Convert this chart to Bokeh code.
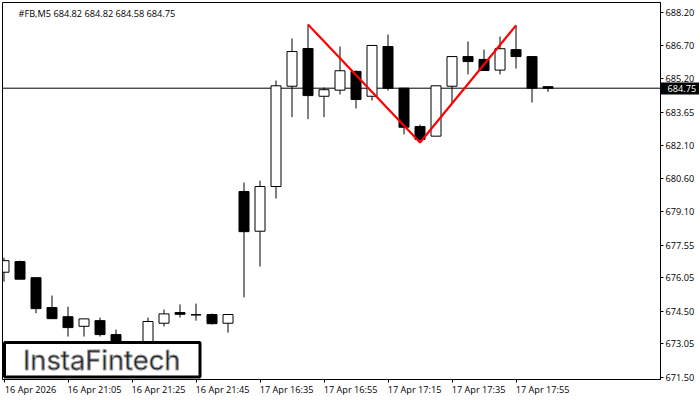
from bokeh.embed import file_html
from bokeh.models import BoxAnnotation, FixedTicker, Label, LinearAxis, Range1d, Span
from bokeh.plotting import figure
from bokeh.resources import INLINE

# one candle every 5 minutes
opens = [676.31, 676.80, 676.06, 674.69, 674.27, 673.83, 674.09, 673.45, 672.95, 672.70,
         673.97, 674.46, 674.36, 674.37, 673.97, 680.01, 678.19, 680.24, 684.84, 686.57,
         684.38, 684.66, 685.52, 684.38, 686.66, 684.75, 682.99, 682.55, 684.84, 686.20,
         686.07, 685.58, 686.52, 686.20, 684.82]
highs = [676.98, 676.84, 676.06, 675.24, 674.73, 674.17, 674.23, 673.68, 673.05, 674.23,
         674.60, 674.83, 674.87, 674.41, 674.37, 680.42, 680.51, 685.10, 687.03, 687.67,
         684.78, 686.66, 685.56, 686.71, 687.21, 684.75, 683.08, 684.86, 686.20, 686.89,
         686.52, 687.12, 687.63, 686.20, 684.82]
lows = [675.88, 675.99, 674.43, 674.18, 673.36, 673.36, 673.36, 672.72, 672.40, 672.60,
        673.82, 674.23, 674.09, 673.91, 673.54, 675.16, 676.57, 679.69, 683.42, 683.33,
        683.42, 684.46, 683.82, 684.19, 684.64, 682.63, 682.26, 682.55, 684.05, 685.38,
        685.56, 685.38, 685.65, 684.09, 684.58]
closes = [676.84, 675.99, 674.64, 674.18, 673.77, 674.17, 673.45, 672.94, 672.60, 674.05,
          674.40, 674.38, 674.35, 673.95, 674.37, 678.17, 680.24, 684.86, 686.43, 684.41,
          684.68, 685.55, 684.23, 686.71, 684.75, 682.96, 682.40, 684.86, 686.20, 685.97,
          685.56, 686.56, 686.20, 684.75, 684.75]

price_ticks = [688.20, 686.70, 685.20, 683.65, 682.10, 680.60, 679.10, 677.55, 676.05, 674.50, 673.05, 671.50]
time_ticks = [0, 4, 8, 12, 16, 20, 24, 28, 32]
time_labels = ["16 Apr 2026", "16 Apr 21:05", "16 Apr 21:25", "16 Apr 21:45", "17 Apr 16:35",
               "17 Apr 16:55", "17 Apr 17:15", "17 Apr 17:35", "17 Apr 17:55"]

# the red double top pattern
pattern_x = [19, 26, 32]
pattern_y = [687.67, 682.26, 687.63]

last_price = 684.75
heading = "#FB,M5  684.82 684.82 684.58 684.75"

FONT = "Open Sans"
FONT_SIZE = "9.2px"
LABEL_SHIFT = 1.66  # labels start at the tick, bokeh centres them
X_LOW, X_HIGH = -0.094, 41.03
Y_LOW, Y_HIGH = 671.39, 688.68

p = figure(width=700, height=400, output_backend="svg", toolbar_location=None,
           x_range=Range1d(X_LOW, X_HIGH), y_range=Range1d(Y_LOW, Y_HIGH),
           x_axis_location="below", y_axis_location="right",
           frame_width=658, frame_height=377,
           min_border_left=2, min_border_top=2, min_border_right=0, min_border_bottom=0,
           background_fill_color="white", outline_line_color="black",
           margin=(0, 0, 0, 0))
p.grid.visible = False

# major ticks only carry the shifted labels, the visible marks are the minor ones
shifted = [t + LABEL_SHIFT for t in time_ticks]
time_axis = p.xaxis[0]
time_axis.ticker = FixedTicker(ticks=shifted, minor_ticks=time_ticks)
time_axis.major_label_overrides = dict(zip(shifted, time_labels))
time_axis.major_label_text_font = FONT
time_axis.major_label_text_font_size = FONT_SIZE
time_axis.major_label_text_color = "black"
time_axis.major_label_standoff = 0
time_axis.major_tick_in = 0
time_axis.major_tick_out = 0
time_axis.major_tick_line_color = None
time_axis.minor_tick_in = 0
time_axis.minor_tick_out = 3
time_axis.minor_tick_line_color = "black"
time_axis.axis_line_color = "black"

price_axis = p.yaxis[0]
price_axis.ticker = FixedTicker(ticks=price_ticks)
price_axis.major_label_overrides = {t: f"{t:.2f}" for t in price_ticks}
price_axis.major_label_text_font = FONT
price_axis.major_label_text_font_size = FONT_SIZE
price_axis.major_label_text_color = "black"
price_axis.major_label_standoff = 2
price_axis.major_tick_in = 0
price_axis.major_tick_out = 3
price_axis.minor_tick_line_color = None
price_axis.axis_line_color = "black"

# current price line sits behind the candles
p.add_layout(Span(location=last_price, dimension="width", line_color="black", line_width=1, level="underlay"))

xs = list(range(len(opens)))
p.segment(xs, highs, xs, lows, line_color="black", line_width=1)
colors = ["white" if c >= o else "black" for o, c in zip(opens, closes)]
p.vbar(x=xs, top=opens, bottom=closes, width=0.625, fill_color=colors, line_color="black", line_width=1)

p.line(pattern_x, pattern_y, line_color="#ff0000", line_width=2.2)

p.add_layout(Label(x=16, y=366, x_units="screen", y_units="screen", text=heading, text_font=FONT,
                   text_font_size=FONT_SIZE, text_color="black", text_baseline="middle"))

# price tag: labels don't draw outside the frame, so a second axis stacked after the
# price axis reaches back over it with one fat tick
tag_axis = LinearAxis(ticker=FixedTicker(ticks=[last_price]),
                      major_label_overrides={last_price: f"{last_price:.2f}"},
                      major_label_text_font=FONT, major_label_text_font_size=FONT_SIZE,
                      major_label_text_color="white", major_label_standoff=-32,
                      major_tick_in=37, major_tick_out=2, major_tick_line_width=12,
                      major_tick_line_color="black", major_tick_line_cap="butt",
                      minor_tick_line_color=None, axis_line_color=None)
p.add_layout(tag_axis, "right")

# watermark box
p.add_layout(BoxAnnotation(left=2, right=197.5, top=37, bottom=2.5, left_units="screen", right_units="screen",
                           top_units="screen", bottom_units="screen", fill_color="white", fill_alpha=1,
                           line_color="black", line_alpha=1, line_width=3))
p.add_layout(Label(x=20.5, y=19, x_units="screen", y_units="screen", text="InstaFintech", text_font="Inter",
                   text_font_size="27.3px", text_color="#1a1a1a", text_baseline="middle",
                   text_outline_color="#999999"))

open("out.html", "w").write(file_html(p, INLINE))
